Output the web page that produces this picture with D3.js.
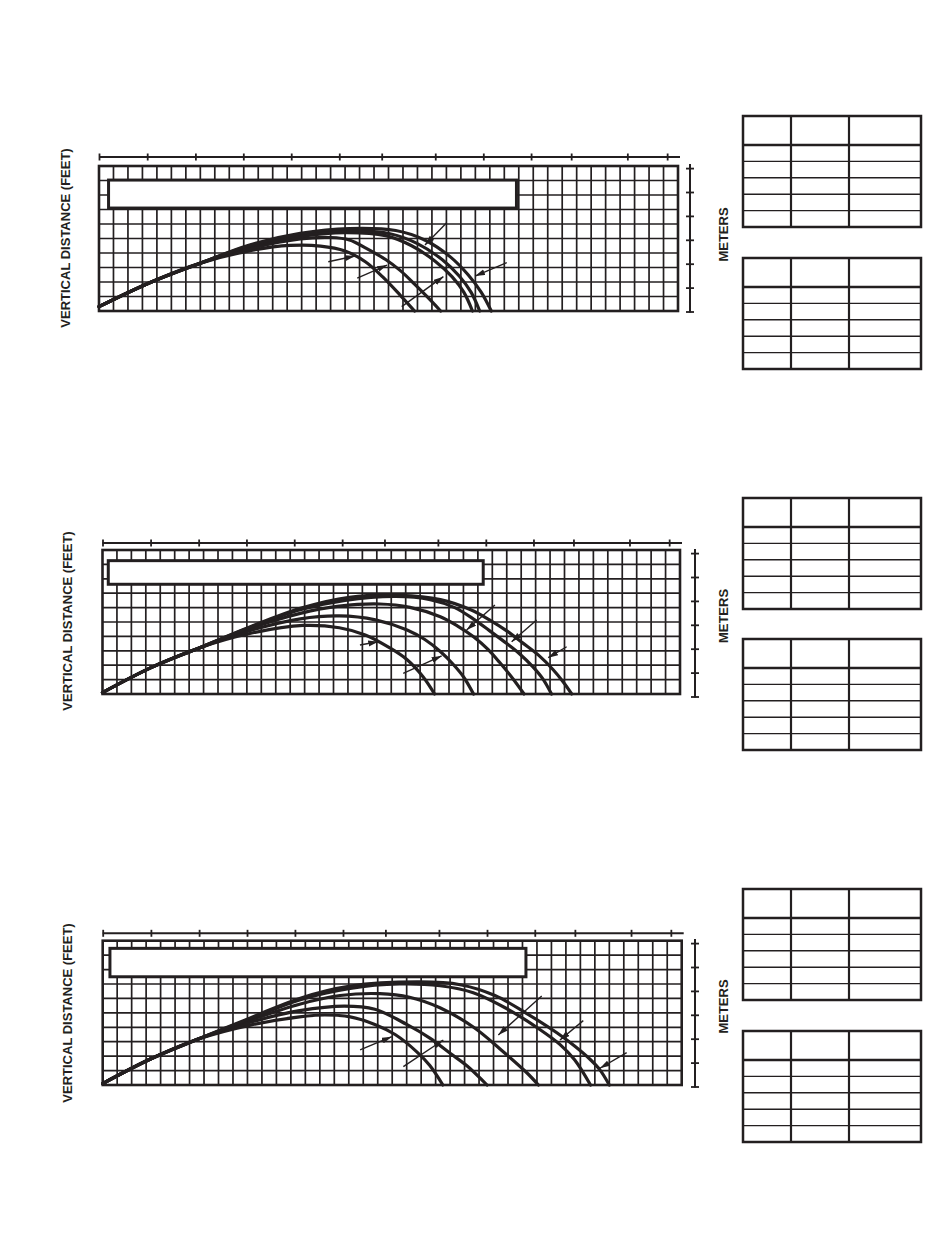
<!DOCTYPE html>
<html>
<head>
<meta charset="utf-8">
<script src="https://cdn.jsdelivr.net/npm/d3@7"></script>
<style>
  body { margin: 0; background: #fff; }
  text { font-family: "Liberation Sans", Arial, sans-serif; font-weight: bold; fill: #231f20; }
</style>
</head>
<body>
<div id="chart"></div>
<script>
// grid is in feet: 40 columns x 10 rows per panel
const gridCols = 40;
const gridRows = 10;

// top scale ticks (metres), positions read in feet
const topTicksFt = [0, 3.33, 6.66, 9.97, 13.28, 16.6, 19.53, 23.23, 26.55, 29.85, 32.62, 36.5, 39.25];
// right scale ticks in metres
const rightTicksM = [0, 0.5, 1, 1.5, 2, 2.5, 3];

// trajectories, [horizontal ft, vertical ft]
const panel1Curves = [
  [[0,0.3],[3.5,1.95],[7,3.3],[10.4,4.15],[13.2,4.52],[15.3,4.48],[17,4.14],[18.4,3.4],[19.6,2.35],[20.8,1.1],[21.8,0]],
  [[0,0.3],[3.5,1.95],[7,3.3],[10.4,4.3],[13.9,4.97],[16,5.07],[17.3,4.9],[18.5,4.3],[19.8,3.55],[20.8,2.8],[21.8,1.85],[22.7,0.95],[23.6,0]],
  [[0,0.3],[3.5,1.95],[7,3.3],[10.4,4.45],[13.9,5.15],[17,5.41],[19.8,5.2],[21.6,4.5],[23.2,3.45],[24.4,2.35],[25.2,1.3],[25.8,0]],
  [[0,0.3],[3.5,1.95],[7,3.3],[10.4,4.5],[13.9,5.25],[17.3,5.52],[20.1,5.33],[22,4.65],[23.7,3.55],[24.9,2.4],[25.7,1.3],[26.3,0]],
  [[0,0.3],[3.5,1.95],[7,3.3],[10.4,4.55],[13.9,5.35],[17.3,5.69],[20.5,5.55],[22.5,4.9],[24.25,3.75],[25.5,2.5],[26.4,1.3],[27.1,0]]
];
const panel2Curves = [
  [[0,0.1],[3.4,1.85],[6.7,3.2],[10.2,4.2],[13.9,4.76],[16.4,4.6],[18.2,4.1],[19.9,3.2],[21.1,2.38],[22.2,1.2],[23,0]],
  [[0,0.1],[3.4,1.85],[6.7,3.2],[10.2,4.4],[13.7,5.22],[16.4,5.42],[18.9,5.15],[21.1,4.45],[22.3,3.8],[23.4,2.95],[24.3,2.05],[25,1.2],[25.7,0]],
  [[0,0.1],[3.4,1.85],[6.7,3.2],[10.2,4.55],[13.7,5.6],[16.4,6.1],[19.2,6.25],[21.3,6.02],[23.4,5.37],[24.6,4.72],[25.7,3.98],[26.7,3.1],[27.5,2.2],[28.4,1.1],[29.2,0]],
  [[0,0.1],[3.4,1.85],[6.7,3.2],[10.2,4.62],[13.7,5.85],[16.8,6.5],[20.3,6.77],[22.7,6.55],[24.4,6.0],[25.7,5.2],[26.8,4.4],[28,3.5],[28.9,2.78],[29.8,1.9],[30.5,1.05],[31.1,0]],
  [[0,0.1],[3.4,1.85],[6.7,3.2],[10.2,4.65],[13.7,5.95],[17.1,6.72],[20.6,6.85],[23.4,6.55],[25.5,5.85],[26.8,5.15],[28,4.38],[29.1,3.55],[30.2,2.7],[31.2,1.7],[31.9,0.85],[32.5,0]]
];
const panel3Curves = [
  [[0,0.1],[3.3,1.8],[6.65,3.2],[10.2,4.15],[13.6,4.72],[15.35,4.85],[17.1,4.72],[18.8,4.2],[20.2,3.5],[21.7,2.3],[22.6,1.35],[23.5,0]],
  [[0,0.1],[3.3,1.8],[6.65,3.2],[10.2,4.35],[13.6,5.15],[16.7,5.47],[18.8,5.25],[21,4.2],[22.6,3.25],[24,2.2],[25.2,1.3],[26.55,0]],
  [[0,0.1],[3.3,1.8],[6.65,3.2],[10.2,4.5],[13.6,5.6],[16.4,6.2],[19.15,6.33],[21.2,6.08],[23.3,5.35],[25.6,4.02],[27.45,2.5],[29.3,0.85],[30.1,0]],
  [[0,0.1],[3.3,1.8],[6.65,3.2],[10.2,4.6],[13.6,5.9],[17.1,6.7],[20.5,7.0],[23.3,6.88],[25.6,6.4],[27.9,5.3],[30.2,3.85],[31.6,2.8],[32.6,1.75],[33.7,0]],
  [[0,0.1],[3.3,1.8],[6.65,3.2],[10.2,4.65],[13.6,6.0],[17.1,6.85],[21.9,7.14],[24.7,6.95],[27.1,6.2],[29.3,4.95],[31.4,3.6],[32.6,2.7],[33.7,1.75],[34.35,1.05],[35,0]]
];

// leader arrows: [fromX, fromY, toX, toY] in ft, head at the "to" end
const panel1Arrows = [
  [15.84,3.4,17.69,3.79],
  [17.84,2.26,19.9,3.17],
  [20.91,0.3,23.79,2.37],
  [24.02,6.09,22.52,4.55],
  [28.17,3.33,25.98,2.41]
];
const panel2Arrows = [
  [17.83,3.4,19.1,3.63],
  [20.83,1.44,23.49,2.64],
  [27.18,6.18,25.22,4.44],
  [30.07,5.14,28.34,3.63],
  [32.15,3.28,30.87,2.52]
];
const panel3Arrows = [
  [17.78,2.43,19.97,3.35],
  [20.77,1.27,23.53,3.12],
  [30.33,6.17,27.33,3.47],
  [33.2,4.46,31.59,3.12],
  [36.2,2.24,34.35,1.16]
];

const yLabel = "VERTICAL DISTANCE (FEET)";
const rightLabel = "METERS";
const tableRowCount = 5;

// page layout per panel
const panels = [
  { left: 99, right: 678, top: 166, bottom: 311, topAxisY: 157, rightAxisX: 690, rightAxisBottom: 311.5,
    box: [0.66, 28.84, 7.1, 9.03], tables: [116, 258], labelX: 65, labelY: 238, metersY: 234.5,
    curves: panel1Curves, arrows: panel1Arrows },
  { left: 102.5, right: 680, top: 550, bottom: 694, topAxisY: 543, rightAxisX: 695, rightAxisBottom: 696.5,
    box: [0.4, 26.37, 7.62, 9.26], tables: [498, 639], labelX: 67, labelY: 621, metersY: 616,
    curves: panel2Curves, arrows: panel2Arrows },
  { left: 102.7, right: 681.7, top: 940.7, bottom: 1085, topAxisY: 933.3, rightAxisX: 695, rightAxisBottom: 1086.5,
    box: [0.5, 29.24, 7.5, 9.47], tables: [889, 1031], labelX: 67, labelY: 1013, metersY: 1006.5,
    curves: panel3Curves, arrows: panel3Arrows }
];

const ink = "#231f20";
const width = 950, height = 1248;

const svg = d3.select("#chart").append("svg")
    .attr("width", width)
    .attr("height", height)
    .attr("viewBox", [0, 0, width, height])
    .style("display", "block");

svg.append("defs").append("marker")
    .attr("id", "head")
    .attr("markerUnits", "userSpaceOnUse")
    .attr("markerWidth", 11)
    .attr("markerHeight", 7)
    .attr("refX", 10)
    .attr("refY", 3)
    .attr("orient", "auto")
  .append("path")
    .attr("d", "M0,0L10,3L0,6Z")
    .attr("fill", ink);

const line = d3.line().curve(d3.curveCatmullRom.alpha(0.5));

panels.forEach(p => {
    const g = svg.append("g");
    const x = d3.scaleLinear().domain([0, gridCols]).range([p.left, p.right]);
    const y = d3.scaleLinear().domain([0, gridRows]).range([p.bottom, p.top]);
    // right scale: half metre steps, about 23.9px each
    const yM = d3.scaleLinear().domain([0, 3]).range([p.rightAxisBottom, p.rightAxisBottom - 143.4]);

    // grid
    g.append("g")
        .attr("stroke", ink)
        .attr("stroke-width", 1.7)
        .call(gg => gg.selectAll(".v")
            .data(d3.range(1, gridCols))
            .join("line")
            .attr("x1", d => x(d)).attr("x2", d => x(d))
            .attr("y1", y(0)).attr("y2", y(gridRows)))
        .call(gg => gg.selectAll(".h")
            .data(d3.range(1, gridRows))
            .join("line")
            .attr("x1", x(0)).attr("x2", x(gridCols))
            .attr("y1", d => y(d)).attr("y2", d => y(d)));

    g.append("rect")
        .attr("x", x(0)).attr("y", y(gridRows))
        .attr("width", x(gridCols) - x(0))
        .attr("height", y(0) - y(gridRows))
        .attr("fill", "none")
        .attr("stroke", ink)
        .attr("stroke-width", 2.6);

    // empty caption box over the grid
    const [bx0, bx1, by0, by1] = p.box;
    g.append("rect")
        .attr("x", x(bx0)).attr("y", y(by1))
        .attr("width", x(bx1) - x(bx0))
        .attr("height", y(by0) - y(by1))
        .attr("fill", "#fff")
        .attr("stroke", ink)
        .attr("stroke-width", 3);

    // trajectories
    g.append("g")
        .selectAll("path")
        .data(p.curves)
        .join("path")
        .attr("d", d => line(d.map(([a, b]) => [x(a), y(b)])))
        .attr("fill", "none")
        .attr("stroke", ink)
        .attr("stroke-width", 3.2)
        .attr("stroke-linecap", "round");

    // leader arrows
    g.append("g")
        .selectAll("line")
        .data(p.arrows)
        .join("line")
        .attr("x1", d => x(d[0])).attr("y1", d => y(d[1]))
        .attr("x2", d => x(d[2])).attr("y2", d => y(d[3]))
        .attr("stroke", ink)
        .attr("stroke-width", 1.4)
        .attr("marker-end", "url(#head)");

    // top metre scale
    g.append("line")
        .attr("x1", x(0)).attr("x2", x(gridCols) + 2)
        .attr("y1", p.topAxisY).attr("y2", p.topAxisY)
        .attr("stroke", ink).attr("stroke-width", 2);
    g.append("g")
        .attr("transform", `translate(0,${p.topAxisY})`)
        .call(d3.axisTop(x).tickValues(topTicksFt).tickFormat("").tickSizeOuter(0))
        .call(a => a.select(".domain").remove())
        .call(a => a.selectAll(".tick line")
            .attr("y1", 3.5).attr("y2", -3.5)
            .attr("stroke", ink).attr("stroke-width", 1.8));

    // right metre scale
    g.append("line")
        .attr("x1", p.rightAxisX).attr("x2", p.rightAxisX)
        .attr("y1", yM(3) - 4).attr("y2", yM(0) + 1)
        .attr("stroke", ink).attr("stroke-width", 2);
    g.append("g")
        .attr("transform", `translate(${p.rightAxisX},0)`)
        .call(d3.axisRight(yM).tickValues(rightTicksM).tickFormat("").tickSizeOuter(0))
        .call(a => a.select(".domain").remove())
        .call(a => a.selectAll(".tick line")
            .attr("x1", -4).attr("x2", 4)
            .attr("stroke", ink).attr("stroke-width", 1.8));

    g.append("text")
        .attr("transform", `translate(${p.labelX},${p.labelY}) rotate(-90)`)
        .attr("text-anchor", "middle")
        .attr("dominant-baseline", "central")
        .attr("font-size", 13)
        .text(yLabel);

    g.append("text")
        .attr("transform", `translate(723,${p.metersY}) rotate(-90)`)
        .attr("text-anchor", "middle")
        .attr("dominant-baseline", "central")
        .attr("font-size", 13)
        .text(rightLabel);

    // blank tables
    p.tables.forEach(t0 => {
        const cols = [743, 791, 849, 921];
        const headH = 29, rowH = 16.4;
        const tb = t0 + headH + rowH * tableRowCount;
        const tg = g.append("g").attr("stroke", ink);
        tg.selectAll(".r")
            .data(d3.range(1, tableRowCount))
            .join("line")
            .attr("x1", cols[0]).attr("x2", cols[3])
            .attr("y1", i => t0 + headH + rowH * i).attr("y2", i => t0 + headH + rowH * i)
            .attr("stroke-width", 1.4);
        tg.append("line")
            .attr("x1", cols[0]).attr("x2", cols[3])
            .attr("y1", t0 + headH).attr("y2", t0 + headH)
            .attr("stroke-width", 2.5);
        tg.selectAll(".c")
            .data(cols.slice(1, 3))
            .join("line")
            .attr("x1", c => c).attr("x2", c => c)
            .attr("y1", t0).attr("y2", tb)
            .attr("stroke-width", 2.2);
        tg.append("rect")
            .attr("x", cols[0]).attr("y", t0)
            .attr("width", cols[3] - cols[0]).attr("height", tb - t0)
            .attr("fill", "none")
            .attr("stroke-width", 2.5);
    });
});
</script>
</body>
</html>
